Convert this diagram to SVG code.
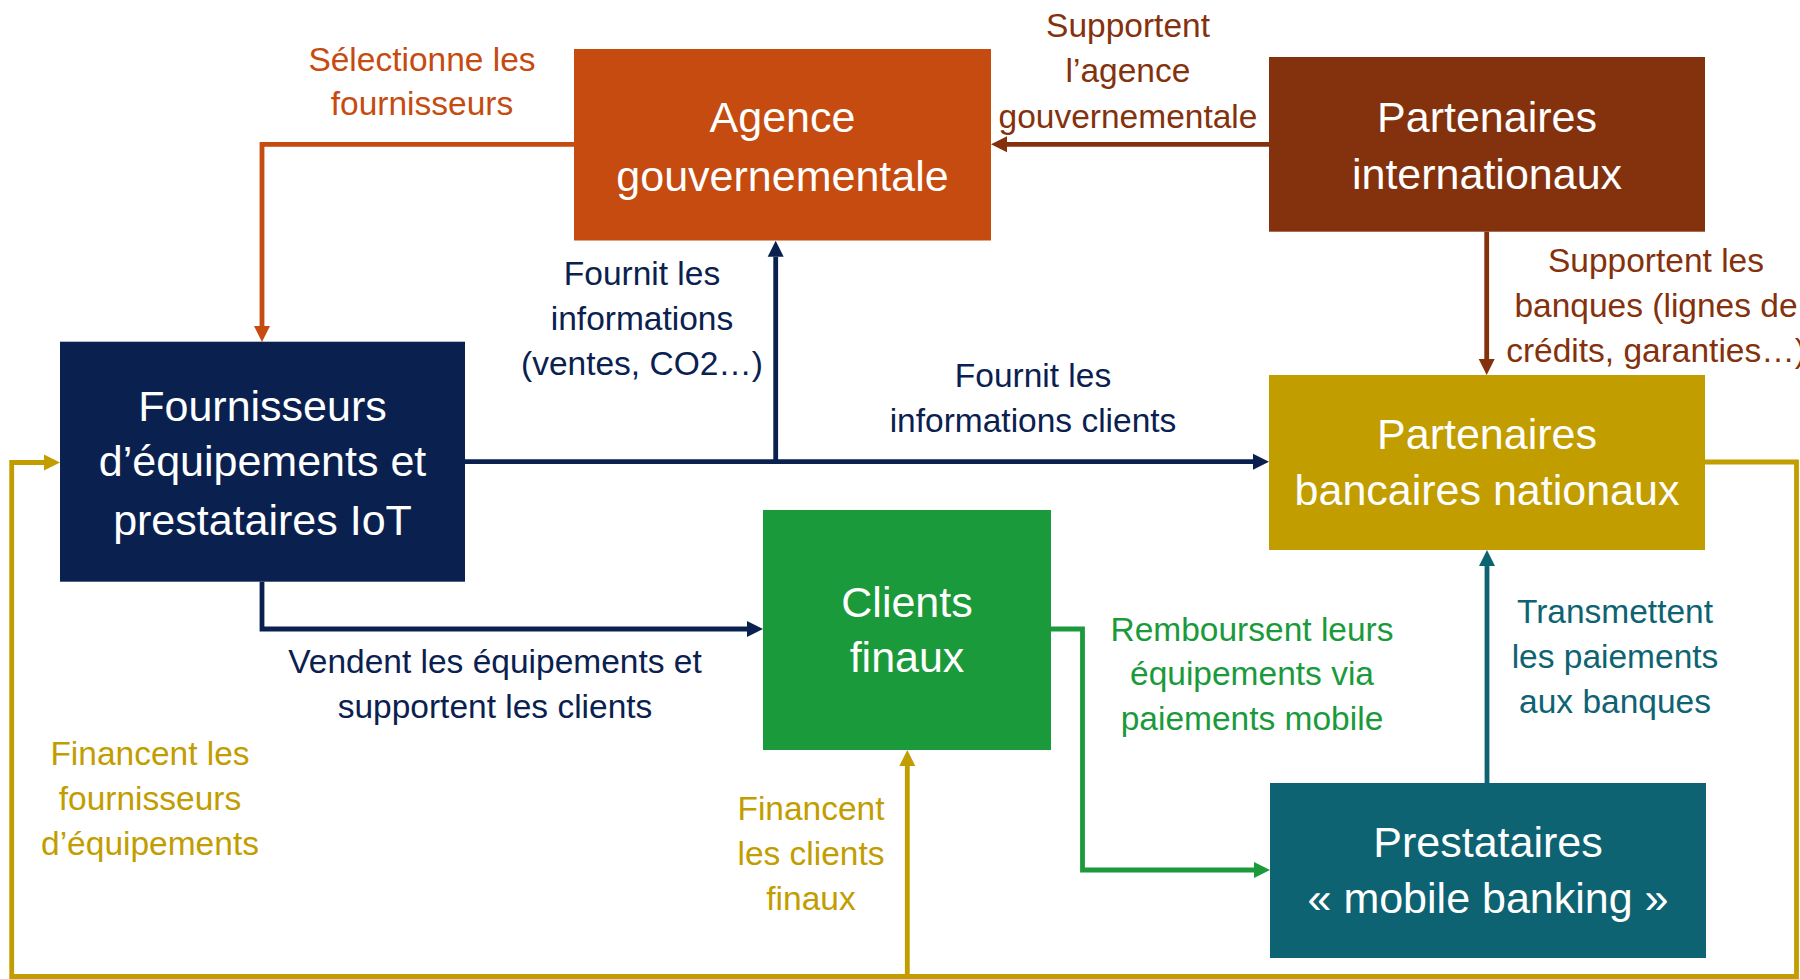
<svg xmlns="http://www.w3.org/2000/svg" width="1800" height="979" viewBox="0 0 1800 979">
<defs>
<style>
text { font-family: "Liberation Sans", Arial, sans-serif; text-anchor: middle; }
.nt { fill: #ffffff; font-size: 43px; }
.lb { font-size: 33.5px; }
.c { fill: none; stroke-width: 4.8; stroke-linejoin: miter; }
</style>
<marker id="aOr" markerUnits="userSpaceOnUse" markerWidth="16" markerHeight="17" refX="0" refY="8" orient="auto" overflow="visible"><path d="M0,0 L16,8 L0,16 z" fill="#C54B10"/></marker>
<marker id="aNv" markerUnits="userSpaceOnUse" markerWidth="16" markerHeight="17" refX="0" refY="8" orient="auto" overflow="visible"><path d="M0,0 L16,8 L0,16 z" fill="#0A2150"/></marker>
<marker id="aBr" markerUnits="userSpaceOnUse" markerWidth="16" markerHeight="17" refX="0" refY="8" orient="auto" overflow="visible"><path d="M0,0 L16,8 L0,16 z" fill="#84310D"/></marker>
<marker id="aGr" markerUnits="userSpaceOnUse" markerWidth="16" markerHeight="17" refX="0" refY="8" orient="auto" overflow="visible"><path d="M0,0 L16,8 L0,16 z" fill="#1B9A3B"/></marker>
<marker id="aTl" markerUnits="userSpaceOnUse" markerWidth="16" markerHeight="17" refX="0" refY="8" orient="auto" overflow="visible"><path d="M0,0 L16,8 L0,16 z" fill="#0E6373"/></marker>
<marker id="aGd" markerUnits="userSpaceOnUse" markerWidth="16" markerHeight="17" refX="0" refY="8" orient="auto" overflow="visible"><path d="M0,0 L16,8 L0,16 z" fill="#C29D00"/></marker>
</defs>
<rect x="0" y="0" width="1800" height="979" fill="#ffffff"/>

<g id="connectors">
<path class="c" stroke="#C54B10" d="M574,144.3 H262 V326" marker-end="url(#aOr)"/>
<path class="c" stroke="#0A2150" d="M465,461.7 H1253" marker-end="url(#aNv)"/>
<path class="c" stroke="#0A2150" d="M775.7,461.7 V256.7" marker-end="url(#aNv)"/>
<path class="c" stroke="#84310D" d="M1269,144.3 H1007" marker-end="url(#aBr)"/>
<path class="c" stroke="#84310D" d="M1486.7,231.7 V359" marker-end="url(#aBr)"/>
<path class="c" stroke="#0A2150" d="M262,581.7 V629 H747" marker-end="url(#aNv)"/>
<path class="c" stroke="#1B9A3B" d="M1051,629 H1082.5 V870 H1254" marker-end="url(#aGr)"/>
<path class="c" stroke="#0E6373" d="M1487,783 V566" marker-end="url(#aTl)"/>
<path class="c" stroke="#C29D00" d="M1705,462 H1796.5 V976.5 H11.7 V462.5 H44" marker-end="url(#aGd)"/>
<path class="c" stroke="#C29D00" d="M907.3,976.5 V766" marker-end="url(#aGd)"/>
</g>

<g id="labels">
<text class="lb" fill="#C54B10" x="422" y="71">Sélectionne les</text>
<text class="lb" fill="#C54B10" x="422" y="115">fournisseurs</text>
<text class="lb" fill="#84310D" x="1128" y="37">Supportent</text>
<text class="lb" fill="#84310D" x="1128" y="82">l’agence</text>
<text class="lb" fill="#84310D" x="1128" y="128">gouvernementale</text>
<text class="lb" fill="#0A2150" x="642" y="285">Fournit les</text>
<text class="lb" fill="#0A2150" x="642" y="330">informations</text>
<text class="lb" fill="#0A2150" x="642" y="375">(ventes, CO2…)</text>
<text class="lb" fill="#0A2150" x="1033" y="387">Fournit les</text>
<text class="lb" fill="#0A2150" x="1033" y="432">informations clients</text>
<text class="lb" fill="#84310D" x="1656" y="272">Supportent les</text>
<text class="lb" fill="#84310D" x="1656" y="317">banques (lignes de</text>
<text class="lb" fill="#84310D" x="1656" y="362">crédits, garanties…)</text>
<text class="lb" fill="#0A2150" x="495" y="673">Vendent les équipements et</text>
<text class="lb" fill="#0A2150" x="495" y="718">supportent les clients</text>
<text class="lb" fill="#C29D00" x="150" y="765">Financent les</text>
<text class="lb" fill="#C29D00" x="150" y="810">fournisseurs</text>
<text class="lb" fill="#C29D00" x="150" y="855">d’équipements</text>
<text class="lb" fill="#C29D00" x="811" y="820">Financent</text>
<text class="lb" fill="#C29D00" x="811" y="865">les clients</text>
<text class="lb" fill="#C29D00" x="811" y="910">finaux</text>
<text class="lb" fill="#1B9A3B" x="1252" y="641">Remboursent leurs</text>
<text class="lb" fill="#1B9A3B" x="1252" y="685">équipements via</text>
<text class="lb" fill="#1B9A3B" x="1252" y="730">paiements mobile</text>
<text class="lb" fill="#0E6373" x="1615" y="623">Transmettent</text>
<text class="lb" fill="#0E6373" x="1615" y="668">les paiements</text>
<text class="lb" fill="#0E6373" x="1615" y="713">aux banques</text>
</g>

<g id="agence">
<rect x="574" y="49" width="417" height="191.5" fill="#C54B10"/>
<text class="nt" x="782.5" y="132">Agence</text>
<text class="nt" x="782.5" y="191">gouvernementale</text>
</g>
<g id="partenaires-internationaux">
<rect x="1269" y="57" width="436" height="174.7" fill="#84310D"/>
<text class="nt" x="1487" y="132">Partenaires</text>
<text class="nt" x="1487" y="189">internationaux</text>
</g>
<g id="fournisseurs">
<rect x="60" y="341.7" width="405" height="240" fill="#0A2150"/>
<text class="nt" x="262.5" y="421">Fournisseurs</text>
<text class="nt" x="262.5" y="476">d’équipements et</text>
<text class="nt" x="262.5" y="535">prestataires IoT</text>
</g>
<g id="partenaires-bancaires">
<rect x="1269" y="375" width="436" height="175" fill="#C29D00"/>
<text class="nt" x="1487" y="449">Partenaires</text>
<text class="nt" x="1487" y="505">bancaires nationaux</text>
</g>
<g id="clients">
<rect x="763" y="510" width="288" height="240" fill="#1B9A3B"/>
<text class="nt" x="907" y="617">Clients</text>
<text class="nt" x="907" y="672">finaux</text>
</g>
<g id="prestataires">
<rect x="1270" y="783" width="436" height="175" fill="#0E6373"/>
<text class="nt" x="1488" y="857">Prestataires</text>
<text class="nt" x="1488" y="913">« mobile banking »</text>
</g>
</svg>
